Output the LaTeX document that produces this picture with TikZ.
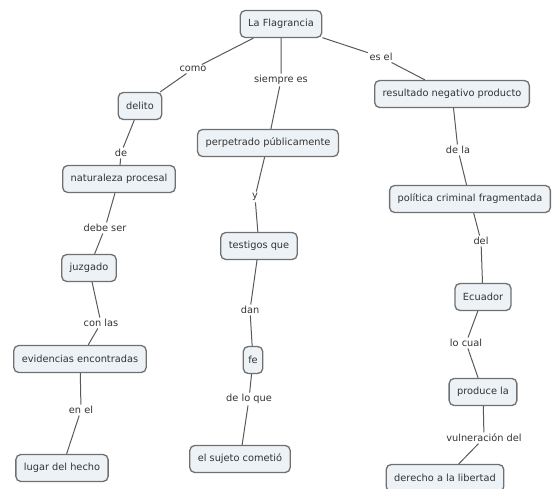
\documentclass[tikz,border=0pt]{standalone}
\usepackage{fontspec}
\setmainfont{DejaVu Sans}
\definecolor{cfill}{HTML}{EDF2F6}
\definecolor{cdraw}{HTML}{707070}
\begin{document}
\begin{tikzpicture}[x=1pt,y=-1pt,
  concept/.style={draw=cdraw, line width=1.3pt, rounded corners=5pt, fill=cfill, minimum height=27pt, inner xsep=8pt, font=\fontsize{9.8}{11}\selectfont, text=black!80},
  lbl/.style={inner sep=1.5pt, font=\fontsize{9.8}{11}\selectfont, text=black!80},
  link/.style={draw=black!65, line width=1pt}]
\useasboundingbox (0,0) rectangle (557,489);
% concepts
\node[concept] (flag) at (281,24) {La Flagrancia};
\node[concept] (delito) at (140,106) {delito};
\node[concept] (nat) at (119,179) {naturaleza procesal};
\node[concept] (juz) at (89,268) {juzgado};
\node[concept] (evi) at (80,359) {evidencias encontradas};
\node[concept] (lug) at (62,468) {lugar del hecho};
\node[concept] (perp) at (268,143) {perpetrado públicamente};
\node[concept] (test) at (259,246) {testigos que};
\node[concept, inner xsep=5pt] (fe) at (253,360) {fe};
\node[concept] (suj) at (240,459) {el sujeto cometió};
\node[concept] (res) at (452,94) {resultado negativo producto};
\node[concept] (pol) at (470,199) {política criminal fragmentada};
\node[concept] (ecu) at (483,297) {Ecuador};
\node[concept] (prod) at (483,392) {produce la};
\node[concept] (der) at (445,478) {derecho a la libertad};
% link labels
\node[lbl] (l1) at (193,69) {como};
\node[lbl] (l2) at (281,80) {siempre es};
\node[lbl] (l3) at (381,57) {es el};
\node[lbl] (l4) at (121,153) {de};
\node[lbl] (l5) at (105,228) {debe ser};
\node[lbl] (l6) at (101,323) {con las};
\node[lbl] (l7) at (81,410) {en el};
\node[lbl] (l8) at (255,197) {y};
\node[lbl] (l9) at (250,310) {dan};
\node[lbl] (l10) at (249,399) {de lo que};
\node[lbl] (l11) at (458,150) {de la};
\node[lbl] (l12) at (481,241) {del};
\node[lbl] (l13) at (466,343) {lo cual};
\node[lbl] (l14) at (484,438) {vulneración del};
% connectors
\draw[link] (flag) -- (l1) -- (delito);
\draw[link] (flag) -- (l2) -- (perp);
\draw[link] (flag) -- (l3) -- (res);
\draw[link] (delito) -- (l4) -- (nat);
\draw[link] (nat) -- (l5) -- (juz);
\draw[link] (juz) -- (l6) -- (evi);
\draw[link] (evi) -- (l7) -- (lug);
\draw[link] (perp) -- (l8) -- (test);
\draw[link] (test) -- (l9) -- (fe);
\draw[link] (fe) -- (l10) -- (suj);
\draw[link] (res) -- (l11) -- (pol);
\draw[link] (pol) -- (l12) -- (ecu);
\draw[link] (ecu) -- (l13) -- (prod);
\draw[link] (prod) -- (l14) -- (der);
\end{tikzpicture}
\end{document}
